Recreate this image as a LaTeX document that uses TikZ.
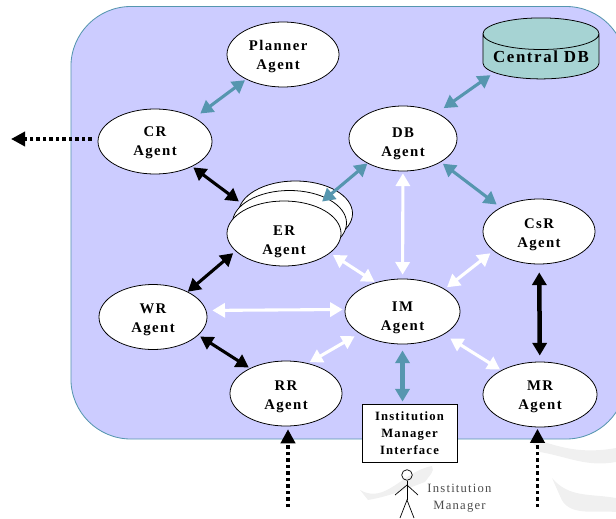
\documentclass[tikz,border=0pt]{standalone}
\usepackage{fontspec}
\setmainfont{Liberation Serif}
\newfontfamily\agentfont[LetterSpace=9.5]{Liberation Serif}
\usepackage{xcolor}
\usetikzlibrary{shapes.geometric,arrows.meta}
\definecolor{platform}{RGB}{204,204,255}
\definecolor{tealline}{RGB}{86,150,175}
\definecolor{dbfill}{RGB}{166,211,211}
\newcommand{\agentname}[2]{\raisebox{#1}[0pt][0pt]{\begin{tabular}{@{}c@{}}#2\\Agent\end{tabular}}}
\tikzset{ell/.style={ellipse,draw,fill=white,line width=0.55pt,inner sep=0pt,minimum width=2.85cm,minimum height=1.625cm,font=\agentfont\bfseries\fontsize{10.5}{13.6}\selectfont}}
\tikzset{twoway/.style={line width=2.2pt,{Triangle[length=9pt,width=10pt]}-{Triangle[length=9pt,width=10pt]}}}
\tikzset{teal2/.style={twoway,tealline}}
\tikzset{white2/.style={twoway,white}}
\tikzset{black2/.style={twoway,black}}
\tikzset{ext/.style={line width=2.6pt,dash pattern=on 2.4pt off 2.2pt,-{Triangle[length=10pt,width=10pt]}}}
\tikzset{stick/.style={line width=0.5pt}}
\begin{document}
\begin{tikzpicture}[x=0.025cm,y=-0.025cm]
    \useasboundingbox (0,0) rectangle (616,518);
    \fill [black!6] (360,490) to [out=-30,in=190] (432,466) to [out=-60,in=60] (425,482) to [out=200,in=10] (368,500) -- cycle;
    \fill [black!6] (527,436) to [out=-20,in=190] (616,448) -- (616,462) to [out=190,in=-10] (540,452) -- cycle;
    \fill [black!6] (552,478) to [out=-50,in=170] (616,498) -- (616,512) to [out=175,in=-70] (560,496) -- cycle;
    \node[draw=tealline,fill=platform,rounded corners=1.5cm,line width=0.6pt,minimum width=13.875cm,minimum height=10.81cm,inner sep=0pt] (platform) at (348.5,222.75) {};

    \node[ell,minimum width=2.8cm] (planner) at (283,54.5) {\hspace*{-7pt}\agentname{-4pt}{Planner}};
    \node[ell] (cr) at (155,141.5) {\agentname{-3.3pt}{CR}};
    \node[ell,minimum width=2.7cm] (db) at (403,138.5) {\agentname{-6.2pt}{DB}};
    \node[ell] (er3) at (295.5,213.5) {};
    \node[ell] (er2) at (289.5,223) {};
    \node[ell] (er) at (284,233.5) {\agentname{-8.2pt}{ER}};
    \node[ell,minimum width=2.8cm] (csr) at (539,231.5) {\agentname{-4.8pt}{CsR}};
    \node[ell,minimum width=2.7cm] (wr) at (153,317) {\agentname{-4.4pt}{WR}};
    \node[ell,minimum width=2.875cm] (im) at (402.5,311.5) {\agentname{-6.8pt}{IM}};
    \node[ell,minimum width=2.8cm] (rr) at (286,393.5) {\agentname{-4.7pt}{RR}};
    \node[ell] (mr) at (540,394.5) {\agentname{-4pt}{MR}};
    \node[cylinder,shape border rotate=90,aspect=0.33,draw,fill=dbfill,line width=0.55pt,minimum width=2.9cm,minimum height=1.525cm,inner sep=0pt,font=\agentfont\bfseries\fontsize{12}{14}\selectfont] (central) at (541,56.5) {\raisebox{-2.2pt}{Central DB}};
    \node[draw,fill=white,line width=0.6pt,minimum width=2.375cm,minimum height=1.45cm,inner sep=0pt,align=center,font=\agentfont\bfseries\fontsize{9}{12}\selectfont,execute at begin node={\rule{0pt}{10pt}}] (imi) at (409.5,433) {Institution\\Manager\\Interface};
    \node[align=center,text=black!70,font=\agentfont\fontsize{9}{12.4}\selectfont] (imlabel) at (459.5,498) {Institution\\Manager};

    \node[circle,draw,line width=0.5pt,minimum size=0.265cm,inner sep=0pt] (head) at (407,475) {};
    \coordinate (hip) at (407,500);
    \coordinate (handl) at (395,495);
    \coordinate (handr) at (418,495);
    \coordinate (shoulder) at (407,485);
    \coordinate (footl) at (400,518);
    \coordinate (footr) at (414,518);
    \draw [stick] (head) to [] (hip);
    \draw [stick] (handl) to [] (shoulder) to [] (handr);
    \draw [stick] (footl) to [] (hip) to [] (footr);

    \draw [teal2,shorten <=1pt,shorten >=5pt] (planner.214) to [] (cr.31);
    \draw [teal2,shorten <=3pt,shorten >=5.8pt] (central.199) to [] (db.37);
    \draw [teal2,shorten >=5.3pt] (db.215) to [] (er.40);
    \draw [teal2,shorten <=1.8pt,shorten >=3.4pt] (db.328) to [] (csr.148);
    \draw [teal2,line width=3.2pt,shorten <=4.3pt,shorten >=1.4pt] (im.south) to [] (im.south |- imi.north);
    \draw [black2,shorten <=1pt,shorten >=7.8pt] (cr.326) to [] (er.145);
    \draw [black2,shorten <=2.2pt] (er.200) to [] (wr.36);
    \draw [black2,shorten <=1.7pt,shorten >=1pt] (wr.338) to [] (rr.145);
    \draw [black2,line width=3.2pt,shorten <=5.7pt,shorten >=4.3pt] (csr) to [] (mr);
    \draw [white2,shorten <=1.4pt,shorten >=2.8pt] (db) to [] (im);
    \draw [white2,shorten <=2.4pt,shorten >=0.7pt] (er.337) to [] (im.133);
    \draw [white2,shorten <=2.8pt,shorten >=2pt] (csr.203) to [] (im.28);
    \draw [white2,shorten <=4.3pt,shorten >=1.4pt] (wr.7) to [] (im.178);
    \draw [white2,shorten <=1.4pt,shorten >=3.9pt] (rr.54) to [] (im.207);
    \draw [white2,shorten <=5.3pt,shorten >=1pt] (im.331) to [] (mr.148);

    \coordinate (crout) at (11,139);
    \coordinate (rrin) at (288,507);
    \coordinate (mrin) at (537.5,507);
    \draw [ext,shorten <=4.3pt] (crout -| cr.west) to [] (crout);
    \draw [ext,shorten >=2pt] (rrin) to [] (rrin |- rr.south);
    \draw [ext,shorten >=1pt] (mrin) to [] (mrin |- mr.south);
\end{tikzpicture}
\end{document}
